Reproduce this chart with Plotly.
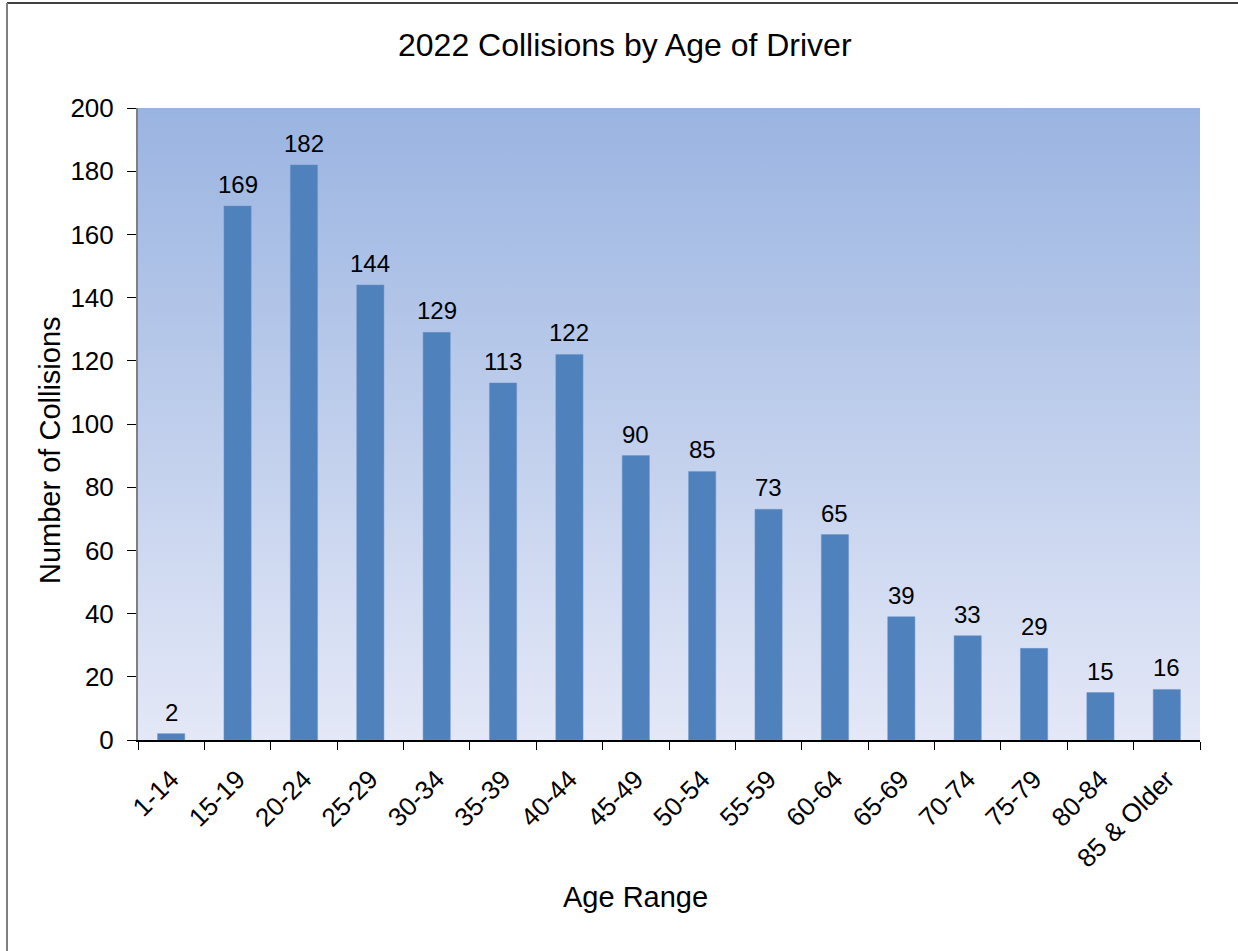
import base64
import plotly.graph_objects as go

categories = ["1-14", "15-19", "20-24", "25-29", "30-34", "35-39", "40-44", "45-49",
              "50-54", "55-59", "60-64", "65-69", "70-74", "75-79", "80-84", "85 & Older"]
collisions = [2, 169, 182, 144, 129, 113, 122, 90, 85, 73, 65, 39, 33, 29, 15, 16]
y_ticks = [0, 20, 40, 60, 80, 100, 120, 140, 160, 180, 200]

FONT = "Liberation Sans, Arial, sans-serif"

svg = ('<svg xmlns="http://www.w3.org/2000/svg" width="100" height="100" viewBox="0 0 100 100" '
       'preserveAspectRatio="none"><defs><linearGradient id="g" x1="0" y1="0" x2="0" y2="1">'
       '<stop offset="0" stop-color="#9AB4E1"/><stop offset="1" stop-color="#E4E8F7"/>'
       '</linearGradient></defs><rect x="0" y="0" width="100" height="100" fill="url(#g)"/></svg>')
bg_src = "data:image/svg+xml;base64," + base64.b64encode(svg.encode()).decode()

fig = go.Figure()
fig.add_trace(go.Bar(
    x=categories, y=collisions,
    marker=dict(color="#4F81BD", line=dict(color="#6C95C8", width=0.5)),
    width=0.41,
    hoverinfo="x+y",
))

for c, v in zip(categories, collisions):
    fig.add_annotation(x=c, y=v, text=str(v), showarrow=False, yanchor="bottom",
                       xanchor="center", yshift=6,
                       font=dict(size=24, color="#000000", family=FONT))

L, R, T, B = 138, 38, 108, 211
W, H = 1238, 951
pw, ph = W - L - R, H - T - B

fig.add_annotation(text="2022 Collisions by Age of Driver", xref="paper", yref="paper",
                   x=(625 - L) / pw, y=1 + (T - 45) / ph, showarrow=False,
                   xanchor="center", yanchor="middle",
                   font=dict(size=32, color="#000000", family=FONT))
fig.add_annotation(text="Age Range", xref="paper", yref="paper",
                   x=(635 - L) / pw, y=-(897 - (H - B)) / ph, showarrow=False,
                   xanchor="center", yanchor="middle",
                   font=dict(size=29, color="#000000", family=FONT))
fig.add_annotation(text="Number of Collisions", xref="paper", yref="paper",
                   x=(50 - L) / pw, y=1 - (450 - T) / ph, showarrow=False, textangle=-90,
                   xanchor="center", yanchor="middle",
                   font=dict(size=29, color="#000000", family=FONT))

# outer frame
fig.add_shape(type="line", xref="paper", yref="paper", x0=(7 - L) / pw, x1=1.1,
              y0=1 + (T - 3) / ph, y1=1 + (T - 3) / ph, line=dict(color="#000000", width=1.5))
fig.add_shape(type="line", xref="paper", yref="paper", x0=(7 - L) / pw, x1=(7 - L) / pw,
              y0=1 + (T - 3) / ph, y1=-0.5, line=dict(color="#808080", width=2))

fig.update_layout(
    width=W, height=H,
    margin=dict(l=L, r=R, t=T, b=B, autoexpand=False),
    paper_bgcolor="#FFFFFF",
    plot_bgcolor="rgba(0,0,0,0)",
    showlegend=False,
    font=dict(family=FONT, size=26, color="#000000"),
    images=[dict(source=bg_src, xref="paper", yref="paper", x=0, y=1, sizex=1, sizey=1,
                 xanchor="left", yanchor="top", sizing="stretch", layer="below")],
    xaxis=dict(
        type="category", range=[-0.5, len(categories) - 0.5],
        tickangle=-45, tickfont=dict(size=26, family=FONT, color="#000000"),
        ticks="outside", tickson="boundaries", ticklen=8, tickcolor="#000000", tickwidth=1,
        ticklabelstandoff=12,
        showline=True, linecolor="#000000", linewidth=1.5,
        showgrid=False, zeroline=False, automargin=False,
    ),
    yaxis=dict(
        range=[0, 200], tickvals=y_ticks, ticktext=[str(t) for t in y_ticks],
        tickfont=dict(size=26, family=FONT, color="#000000"),
        ticks="outside", ticklen=9, tickcolor="#000000", tickwidth=1,
        ticklabelstandoff=8,
        showline=True, linecolor="#808080", linewidth=2,
        showgrid=False, zeroline=False, automargin=False,
    ),
)

fig.write_html("out.html", config={"displayModeBar": False},
               post_script="document.body.style.margin='0px';document.body.style.overflow='hidden';")
